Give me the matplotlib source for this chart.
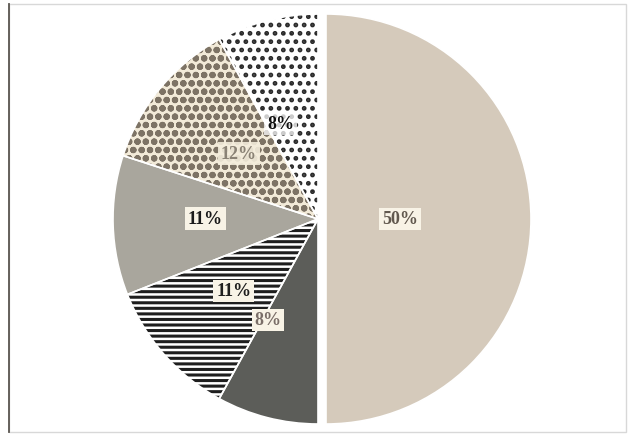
import numpy as np
import matplotlib.pyplot as plt
from matplotlib.patches import Rectangle
from matplotlib.lines import Line2D

# slice shares, clockwise from 12 o'clock
labels = ["50%", "8%", "11%", "11%", "12%", "8%"]
shares = [50, 8, 11, 11, 12, 8]

face = ["#d5cabb", "#5c5d59", "white", "#a9a69d", "#f2ead8", "white"]
hatch = [None, None, "---", None, "oo", ".."]
hatch_col = ["#d5cabb", "#5c5d59", "#1e1e1e", "#a9a69d", "#7d7365", "#2a2a2a"]
txt_col = ["#62594f", "#7a6e68", "#1e1e1e", "#1a1a1a", "#8a8275", "#111111"]
box_fc = ["#f8f3e6", "#f8f3e6", "#f8f3e6", "#f8f3e6", "#f4eddc", "white"]
box_alpha = [1, 1, 1, 1, 0.9, 0.75]
# label radius (fraction of r) and angular nudge in degrees
lab_r = [0.36, 0.55, 0.54, 0.55, 0.50, 0.50]
lab_da = [0, -12, -1, -2, 0, 7]

plt.rcParams["hatch.linewidth"] = 2.2

W, H = 628, 439
fig = plt.figure(figsize=(W / 100, H / 100), dpi=100)
ax = fig.add_axes([0, 0, 1, 1])

cx, cy, r = 318, 219, 205
explode = [8, 0, 0, 0, 0, 0]   # pie offsets are in data units here

wedges, _ = ax.pie(shares, startangle=90, counterclock=False, center=(cx, cy),
                   radius=r, explode=explode, colors=face, frame=True)
for w, h, hc in zip(wedges, hatch, hatch_col):
    w.set_edgecolor(hc)
    w.set_linewidth(0)
    if h:
        w.set_hatch(h)

# thin white seams between slices
ax.pie(shares, startangle=90, counterclock=False, center=(cx, cy),
       radius=r, explode=explode, frame=True,
       wedgeprops=dict(fill=False, edgecolor="white", linewidth=1.2))

ax.set_xlim(0, W)
ax.set_ylim(0, H)
ax.set_aspect("equal")
ax.axis("off")

for i, w in enumerate(wedges):
    mid = np.deg2rad((w.theta1 + w.theta2) / 2 + lab_da[i])
    x0, y0 = w.center
    x = x0 + lab_r[i] * r * np.cos(mid)
    y = y0 + lab_r[i] * r * np.sin(mid)
    box = dict(boxstyle="square,pad=0.15", fc=box_fc[i], ec="none", alpha=box_alpha[i])
    ax.text(x, y, labels[i], ha="center", va="center", fontsize=13,
            fontweight="bold", family="Liberation Serif", color=txt_col[i], bbox=box)

# scanned page frame
ax.add_patch(Rectangle((9, 6), 617, 428, fill=False, ec="#d8d8d8", lw=1))
ax.add_line(Line2D([9, 9], [6, 434], color="#5a5650", lw=1.3))

fig.savefig("out.png", dpi=100)
